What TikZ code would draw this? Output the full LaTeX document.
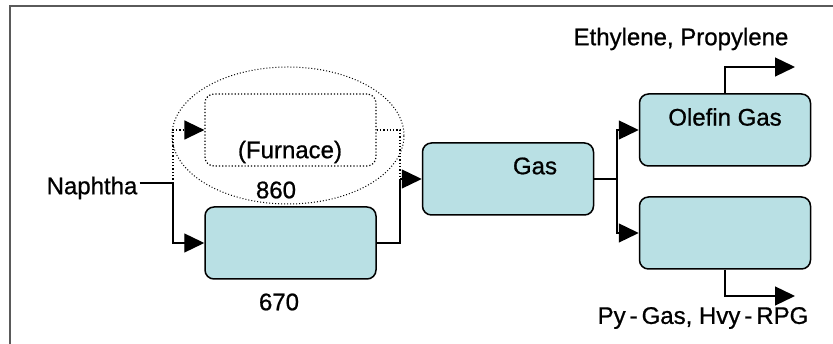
\documentclass[tikz,border=0pt]{standalone}
\usepackage{fontspec}
\setmainfont{Liberation Sans}[FakeBold=0.8]
\usetikzlibrary{arrows.meta, positioning, shapes.geometric}
\definecolor{boxfill}{RGB}{185,224,228}
\definecolor{framegray}{RGB}{90,90,90}
\tikzset{
    unit/.style={rectangle, draw, line width=1.5pt, rounded corners=9pt, fill=boxfill, minimum width=171pt, minimum height=72pt},
    ghost/.style={rectangle, draw, line width=1.2pt, dotted, rounded corners=9pt, minimum width=171pt, minimum height=72pt},
    lbl/.style={inner sep=0pt, font=\fontsize{24}{28}\selectfont},
    flow/.style={line width=1.3pt, -{Triangle[length=20pt, width=19pt]}},
    pipe/.style={line width=1.3pt}
}

\begin{document}
\begin{tikzpicture}[x=1pt, y=-1pt]
        \useasboundingbox (0,0) rectangle (833,344);
        \clip (0,0) rectangle (833,344);
        \draw[framegray, line width=1.5pt] (10,6) rectangle (845,356);

        % Cracking furnaces
        \node (Ring) [ellipse, draw, dotted, line width=1pt, minimum width=232pt, minimum height=137pt] at (288,135.5) {};
        \node (FurnaceB) [ghost] at (290.5,130) {};
        \node (FurnaceA) [unit] at (290.5,243) {};
        \node (FurnaceB_label) [lbl] at (290,152) {(Furnace)};
        \node (Temp_B) [lbl] at (276,190) {860};
        \node (Temp_A) [lbl] at (279,302) {670};

        % Separation units
        \node (Gas) [unit] at (508,179) {};
        \node (Gas_label) [lbl] at (535,166) {Gas};
        \node (Olefin) [unit] at (725,130) {};
        \node (Olefin_label) [lbl] at (725,117) {Olefin Gas};
        \node (Heavy) [unit] at (725,233) {};

        % Feed and products
        \node (Feed) [lbl] at (92,188) {Naphtha};
        \node (Light) [lbl] at (681,39) {Ethylene, Propylene};
        \node (Pyro) [lbl] at (703,318) {Py\,-\,Gas, Hvy\,-\,RPG};

        \coordinate (Split) at (173,183);
        \coordinate (Merge) at (400,179);
        \coordinate (Fork) at (617,179);
        \coordinate (LightEnd) at (795,67);
        \coordinate (PyroEnd) at (795,296);

        % Feed split to both furnaces
        \draw[pipe] ([xshift=2pt]Feed.east |- Split) -- (Split);
        \draw[flow] (Split) |- (FurnaceA.west);
        \draw[flow, dotted] (Split) |- (FurnaceB.west);

        % Furnace outlets to gas unit
        \draw[pipe] (FurnaceA.east) -| (Merge);
        \draw[pipe, dotted] (FurnaceB.east) -| (Merge);
        \draw[flow] (Merge) -- (Gas.west);

        % Gas unit to olefin / heavy units
        \draw[pipe] (Gas.east) -- (Fork);
        \draw[flow] (Fork) |- (Olefin.west);
        \draw[flow] (Fork) |- (Heavy.west);

        % Product streams
        \draw[flow] (Olefin.north) |- (LightEnd);
        \draw[flow] (Heavy.south) |- (PyroEnd);
    \end{tikzpicture}
\end{document}
